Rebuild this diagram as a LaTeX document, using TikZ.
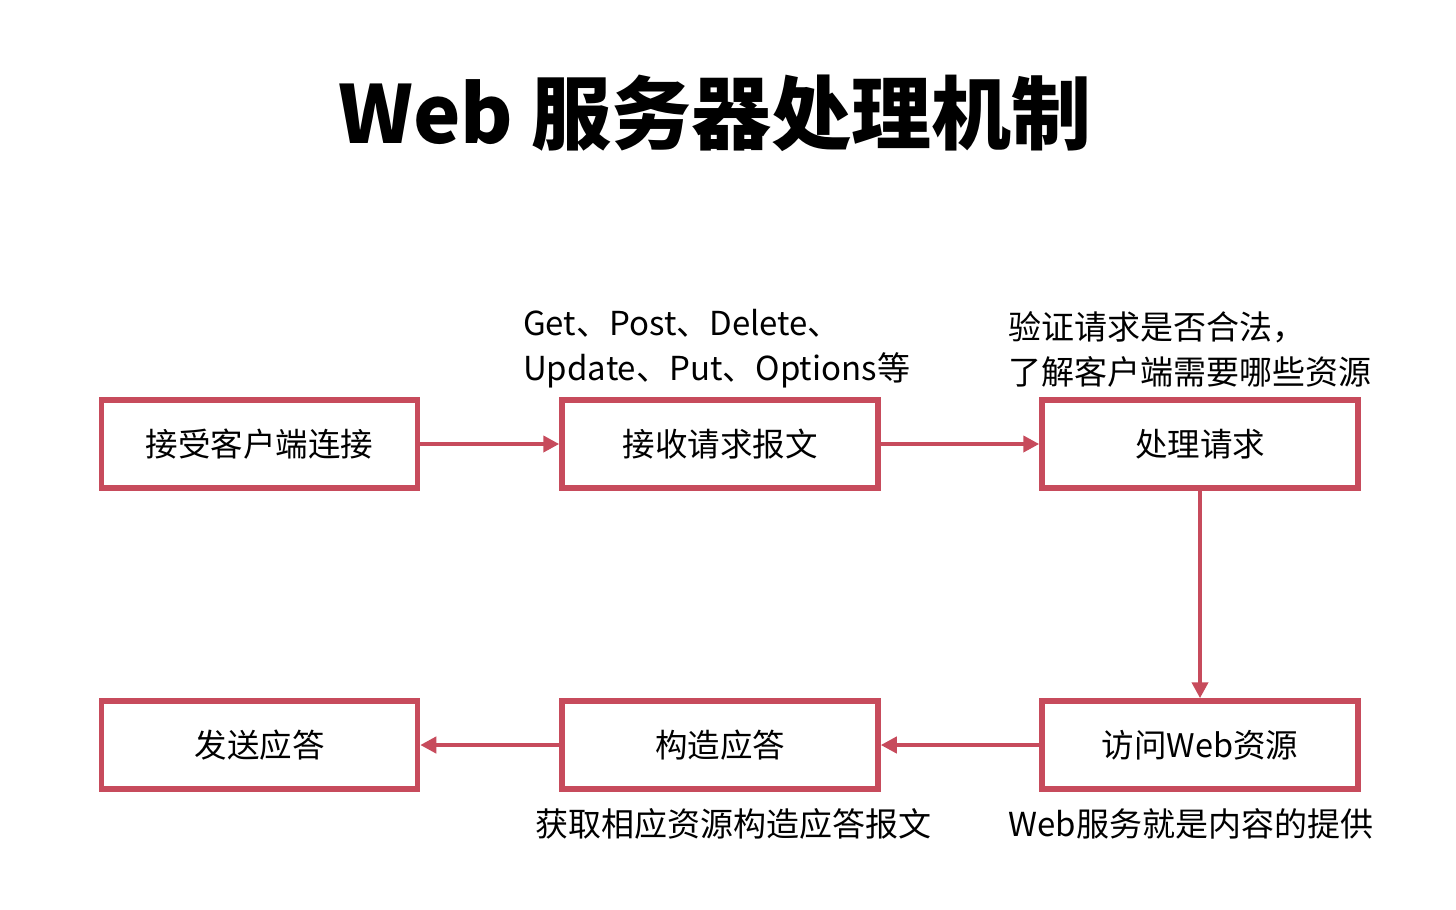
\documentclass[tikz,border=0pt]{standalone}
\usepackage{fontspec}
\setmainfont{Noto Sans CJK SC}
\newfontfamily\cjk{Noto Sans CJK SC}
\usetikzlibrary{arrows.meta}
\definecolor{boxred}{HTML}{C74B5C}
\tikzset{
  stepbox/.style={draw=boxred, line width=5.5pt, minimum width=316pt, minimum height=88pt, inner sep=0pt, font=\fontsize{32.5}{38}\selectfont},
  conn/.style={draw=boxred, line width=4.5pt, -{Triangle[length=16pt,width=16pt]}},
  note/.style={font=\fontsize{33}{45}\selectfont, align=left, inner sep=0pt}
}
\begin{document}
\begin{tikzpicture}[x=1pt,y=-1pt]
\useasboundingbox (0,0) rectangle (1456,910);
\node[font=\bfseries\fontsize{80}{90}\selectfont] (title) at (715,113) {Web 服务器处理机制};
\node[stepbox] (a) at (259.5,444) {接受客户端连接};
\node[stepbox] (b) at (720,444) {接收请求报文};
\node[stepbox] (c) at (1200,444) {处理请求};
\node[stepbox] (d) at (1200,745) {访问Web资源};
\node[stepbox] (e) at (720,745) {构造应答};
\node[stepbox] (f) at (259.5,745) {发送应答};
\draw[conn] (a) -- (b);
\draw[conn] (b) -- (c);
\draw[conn] (c) -- (d);
\draw[conn] (d) -- (e);
\draw[conn] (e) -- (f);
\node[note, anchor=west] (n1) at (523,349) {Get、Post、Delete、\\Update、Put、Options等};
\node[note, anchor=west] (n2) at (1008,349) {验证请求是否合法，\\了解客户端需要哪些资源};
\node[note] (n3) at (733,824) {获取相应资源构造应答报文};
\node[note] (n4) at (1191,824) {Web服务就是内容的提供};
\end{tikzpicture}
\end{document}
